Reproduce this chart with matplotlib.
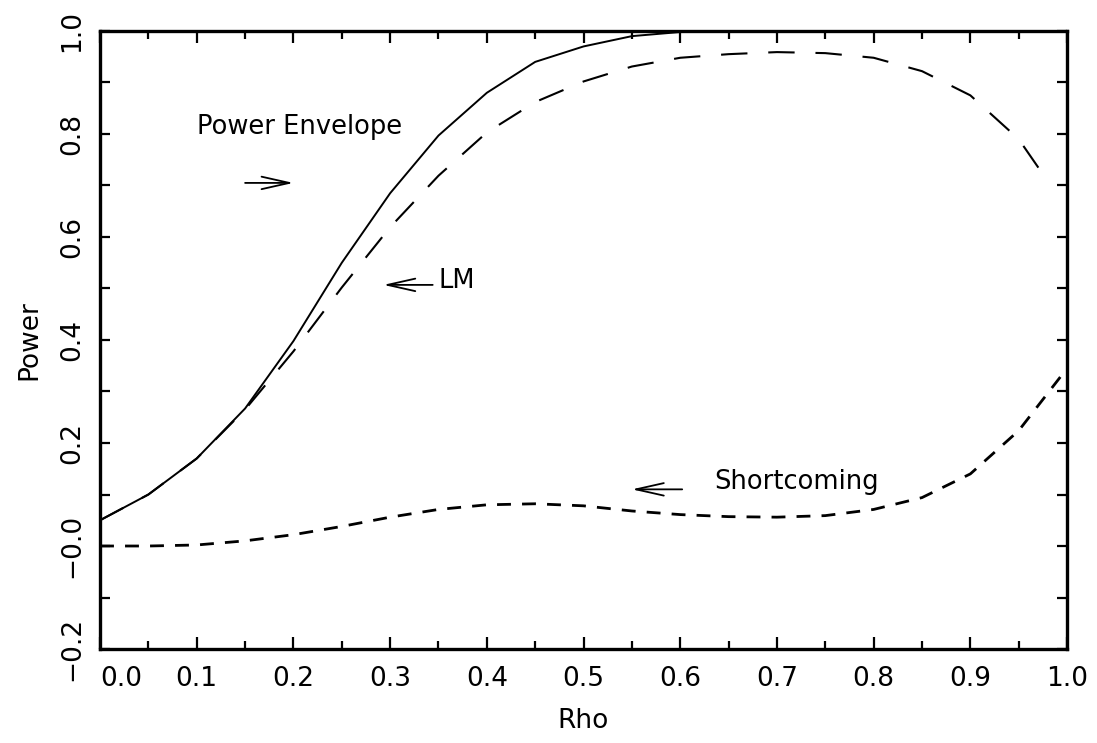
import matplotlib

matplotlib.use("Agg")

import matplotlib.pyplot as plt
import numpy as np
from matplotlib.ticker import FixedLocator, MultipleLocator


RHO = [0.00, 0.05, 0.10, 0.15, 0.20, 0.25, 0.30, 0.35, 0.40, 0.45, 0.50,
       0.55, 0.60, 0.65, 0.70, 0.75, 0.80, 0.85, 0.90, 0.95, 1.00]

ENVELOPE = [0.050, 0.100, 0.170, 0.267, 0.398, 0.550, 0.685, 0.797, 0.880,
            0.940, 0.970, 0.990, 0.998, 1.000, 1.000, 1.000, 1.000, 1.000,
            1.000, 1.000, 1.000]

LM_RHO = [0.00, 0.05, 0.10, 0.15, 0.20, 0.25, 0.30, 0.35, 0.40, 0.45, 0.50,
          0.55, 0.60, 0.65, 0.70, 0.75, 0.80, 0.85, 0.90, 0.95, 0.975]
LM = [0.050, 0.100, 0.170, 0.265, 0.378, 0.502, 0.619, 0.719, 0.803, 0.862,
      0.902, 0.931, 0.948, 0.955, 0.959, 0.957, 0.948, 0.922, 0.875, 0.790,
      0.722]

SHORTCOMING = [0.000, 0.000, 0.002, 0.010, 0.022, 0.038, 0.056, 0.071, 0.080,
               0.082, 0.078, 0.068, 0.061, 0.057, 0.056, 0.059, 0.071, 0.094,
               0.140, 0.224, 0.345]

X_TICKS = [0.0, 0.1, 0.2, 0.3, 0.4, 0.5, 0.6, 0.7, 0.8, 0.9, 1.0]
X_LABELS = ["0.0", "0.1", "0.2", "0.3", "0.4", "0.5", "0.6", "0.7", "0.8", "0.9", "1.0"]
Y_TICKS = [-0.2, 0.0, 0.2, 0.4, 0.6, 0.8, 1.0]
Y_LABELS = ["\u22120.2", "\u22120.0", "0.2", "0.4", "0.6", "0.8", "1.0"]

plt.rcParams["font.family"] = ["DejaVu Sans"]
plt.rcParams["lines.scale_dashes"] = False

fig = plt.figure(figsize=(10.97, 7.43), dpi=100)
ax = fig.add_axes([0.0912, 0.1265, 0.8815, 0.8318])

ax.plot(RHO, ENVELOPE, color="black", linewidth=1.4, solid_joinstyle="miter")
ax.plot(LM_RHO, LM, color="black", linewidth=1.5, dashes=(19, 15))
ax.plot(RHO, SHORTCOMING, color="black", linewidth=2.0, dashes=(10, 8))

ax.set_xlim(0.0, 1.0)
ax.set_ylim(-0.2, 1.0)

ax.xaxis.set_major_locator(FixedLocator(X_TICKS))
ax.xaxis.set_minor_locator(MultipleLocator(0.05))
ax.yaxis.set_major_locator(FixedLocator(Y_TICKS))
ax.yaxis.set_minor_locator(MultipleLocator(0.1))
ax.set_xticklabels(X_LABELS, fontsize=19)
ax.set_yticklabels(Y_LABELS, fontsize=19, rotation=90, va="center")
ax.get_xticklabels()[0].set_horizontalalignment("left")

ax.tick_params(axis="both", which="both", direction="in", top=True, right=True,
               color="black", width=1.6)
ax.tick_params(axis="x", which="major", length=8.5, pad=12)
ax.tick_params(axis="x", which="minor", length=5.5)
ax.tick_params(axis="y", which="both", length=7, pad=11)

for spine in ax.spines.values():
    spine.set_linewidth(2.4)

ax.set_xlabel("Rho", fontsize=19, labelpad=12)
ax.set_ylabel("Power", fontsize=19, labelpad=12)

# labels with their pointer arrows
ax.text(0.10, 0.80, "Power Envelope", fontsize=18.5, ha="left", va="baseline")
ax.text(0.35, 0.50, "LM", fontsize=18.5, ha="left", va="baseline")
ax.text(0.635, 0.11, "Shortcoming", fontsize=18.5, ha="left", va="baseline")

arrow = dict(arrowstyle="->, head_length=2.0, head_width=0.45", color="black",
             linewidth=1.3, mutation_scale=10, shrinkA=0, shrinkB=0)
ax.annotate("", xy=(0.20, 0.705), xytext=(0.15, 0.705), arrowprops=arrow)
ax.annotate("", xy=(0.293, 0.507), xytext=(0.344, 0.507), arrowprops=arrow)
ax.annotate("", xy=(0.55, 0.11), xytext=(0.602, 0.11), arrowprops=arrow)

fig.savefig("out.png", dpi=100)
